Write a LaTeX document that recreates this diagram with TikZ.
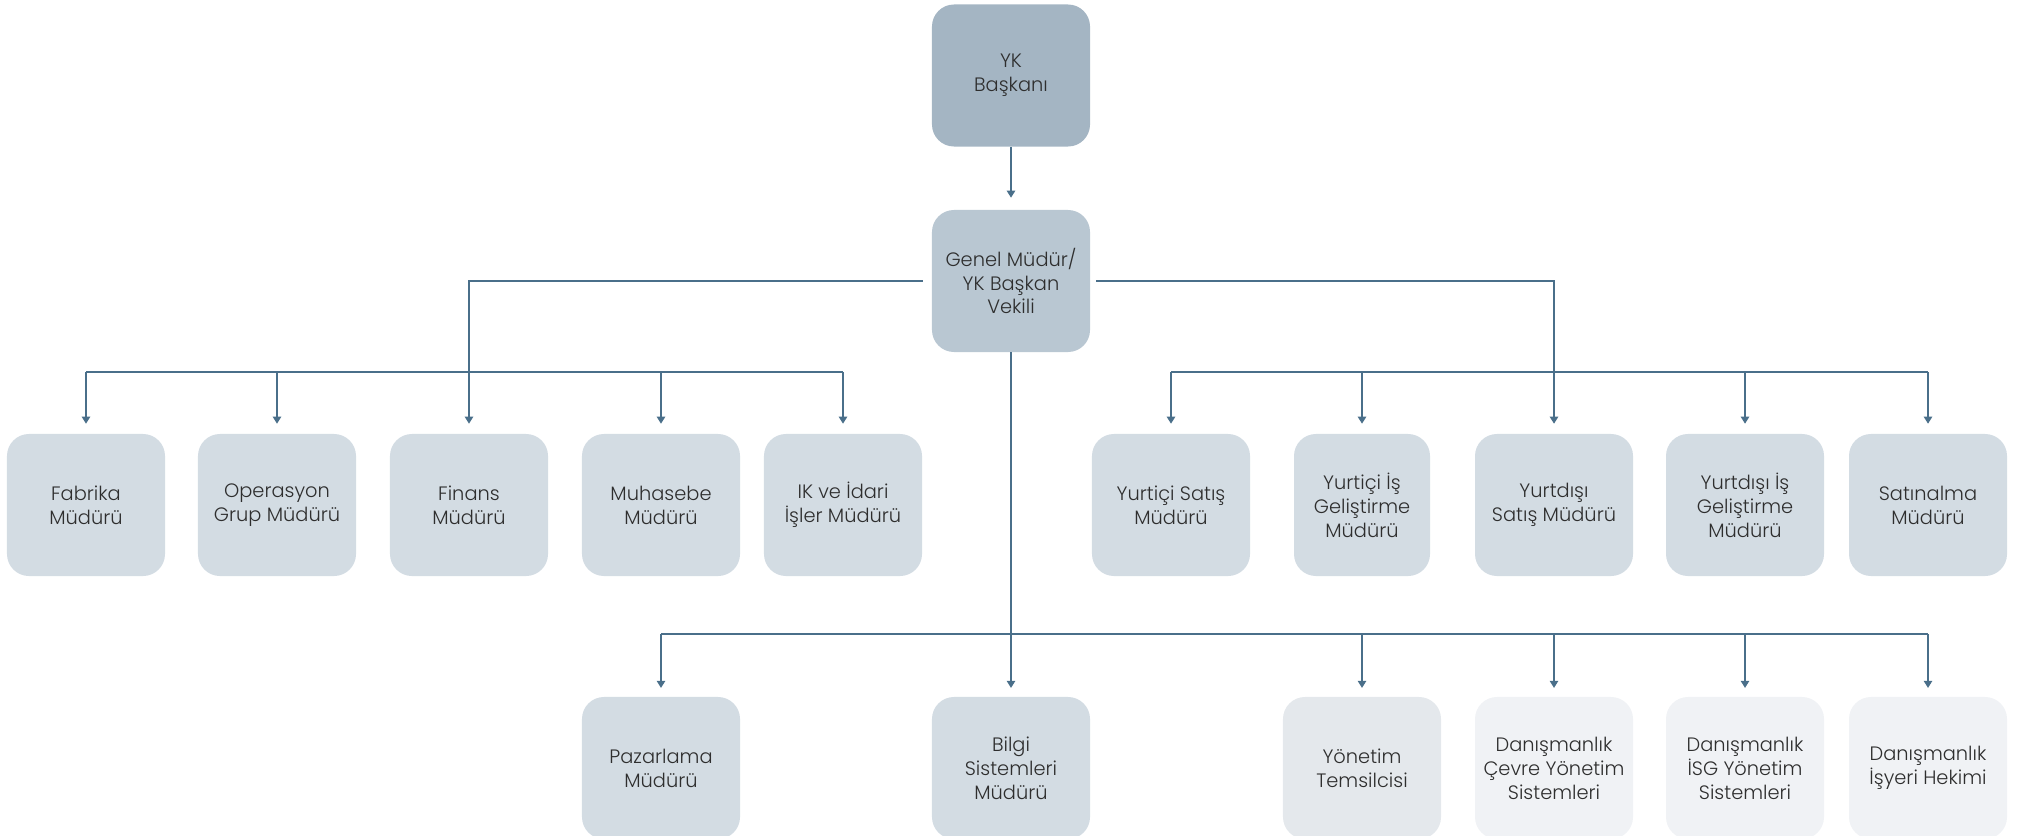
\documentclass[tikz,border=0pt]{standalone}
\usepackage{fontspec}
\setmainfont{Poppins}[UprightFont=* Light]
\usetikzlibrary{arrows.meta}

\definecolor{linecol}{HTML}{4A6F8A}
\definecolor{txtcol}{HTML}{2E2E2E}
\definecolor{topcol}{HTML}{A4B5C3}
\definecolor{gmcol}{HTML}{B9C7D2}
\definecolor{boxcol}{HTML}{D3DCE3}
\definecolor{repcol}{HTML}{E4E8EC}
\definecolor{extcol}{HTML}{F0F2F5}

\begin{document}
\begin{tikzpicture}[x=0.025cm,y=-0.025cm,>={Triangle[width=6pt,length=5pt]},
                    font=\fontsize{13.8}{17}\selectfont,text=txtcol]
  \tikzstyle{box}=[rectangle,rounded corners=0.55cm,fill=boxcol,minimum width=3.95cm,
                   minimum height=3.55cm,align=center,inner sep=2pt]
  \tikzstyle{link}=[draw=linecol,line width=0.9pt]

  \useasboundingbox (0,0) rectangle (2024,835);

  \node[box,fill=topcol] (yk)    at (1011,75.5) {YK\\Başkanı};
  \node[box,fill=gmcol]  (genel) at (1011,281)  {Genel Müdür/\\YK Başkan\\Vekili};

  % first row
  \node[box] (fabrika)   at (86,505)   {Fabrika\\Müdürü};
  \node[box] (operasyon) at (277,505)  {Operasyon\\Grup Müdürü};
  \node[box] (finans)    at (469,505)  {Finans\\Müdürü};
  \node[box] (muhasebe)  at (661,505)  {Muhasebe\\Müdürü};
  \node[box] (ik)        at (843,505)  {IK ve İdari\\İşler Müdürü};
  \node[box] (ysatis)    at (1171,505) {Yurtiçi Satış\\Müdürü};
  \node[box,minimum width=3.4cm] (yis) at (1362,505) {Yurtiçi İş\\Geliştirme\\Müdürü};
  \node[box] (ydsatis)   at (1554,505) {Yurtdışı\\Satış Müdürü};
  \node[box] (ydis)      at (1745,505) {Yurtdışı İş\\Geliştirme\\Müdürü};
  \node[box] (satinalma) at (1928,505) {Satınalma\\Müdürü};

  % second row
  \node[box] (pazarlama) at (661,768)  {Pazarlama\\Müdürü};
  \node[box] (bilgi)     at (1011,768) {Bilgi\\Sistemleri\\Müdürü};
  \node[box,fill=repcol] (yonetim) at (1362,768) {Yönetim\\Temsilcisi};
  \node[box,fill=extcol] (cevre)   at (1554,768) {Danışmanlık\\Çevre Yönetim\\Sistemleri};
  \node[box,fill=extcol] (isg)     at (1745,768) {Danışmanlık\\İSG Yönetim\\Sistemleri};
  \node[box,fill=extcol] (isyeri)  at (1928,768) {Danışmanlık\\İşyeri Hekimi};

  \coordinate (lbus) at (0,372);
  \coordinate (rbus) at (0,372);
  \coordinate (bbus) at (0,634);

  \draw[link,->,shorten >=0.3cm] (yk) -- (genel);
  \draw[link,->,shorten <=0.22cm,shorten >=0.25cm] (genel.west) -| (finans.north);
  \draw[link,->,shorten <=0.15cm,shorten >=0.25cm] (genel.east) -| (ydsatis.north);
  \draw[link,->,shorten >=0.22cm] (genel.south) -- (bilgi.north);

  \draw[link] (lbus -| fabrika) -- (lbus -| ik);
  \foreach \n in {fabrika,operasyon,muhasebe,ik}
    \draw[link,->,shorten >=0.25cm] (lbus -| \n) -- (\n.north);

  \draw[link] (rbus -| ysatis) -- (rbus -| satinalma);
  \foreach \n in {ysatis,yis,ydis,satinalma}
    \draw[link,->,shorten >=0.25cm] (rbus -| \n) -- (\n.north);

  \draw[link] (bbus -| pazarlama) -- (bbus -| isyeri);
  \foreach \n in {pazarlama,yonetim,cevre,isg,isyeri}
    \draw[link,->,shorten >=0.22cm] (bbus -| \n) -- (\n.north);
\end{tikzpicture}
\end{document}
